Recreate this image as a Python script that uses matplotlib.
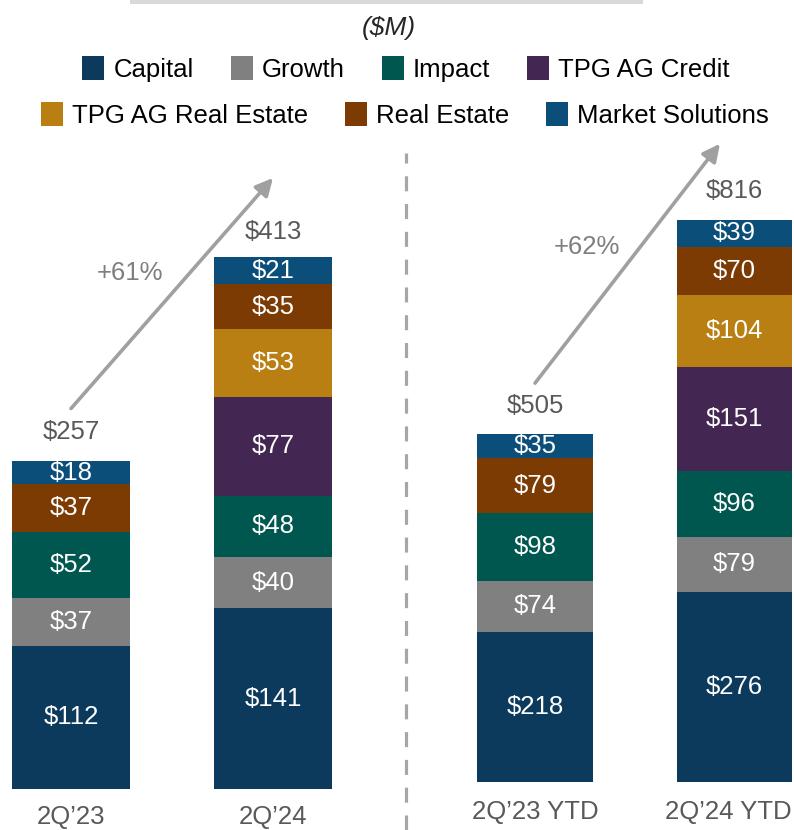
import matplotlib
matplotlib.use("Agg")
import matplotlib.pyplot as plt
from matplotlib.patches import Patch, Rectangle
from matplotlib.lines import Line2D
import numpy as np

plt.rcParams['font.family'] = ['Liberation Sans', 'DejaVu Sans']

series = ["Capital", "Growth", "Impact", "TPG AG Credit",
          "TPG AG Real Estate", "Real Estate", "Market Solutions"]
colors = ["#0b3a5c", "#808080", "#00574f", "#432651",
          "#b97f12", "#7b3b03", "#0b4e79"]

q_cats = ["2Q\u201923", "2Q\u201924"]
q_vals = {
    "Capital": [112, 141],
    "Growth": [37, 40],
    "Impact": [52, 48],
    "TPG AG Credit": [0, 77],
    "TPG AG Real Estate": [0, 53],
    "Real Estate": [37, 35],
    "Market Solutions": [18, 21],
}
q_totals = [257, 413]
q_growth = "+61%"

ytd_cats = ["2Q\u201923 YTD", "2Q\u201924 YTD"]
ytd_vals = {
    "Capital": [218, 276],
    "Growth": [74, 79],
    "Impact": [98, 96],
    "TPG AG Credit": [0, 151],
    "TPG AG Real Estate": [0, 104],
    "Real Estate": [79, 70],
    "Market Solutions": [35, 39],
}
ytd_totals = [505, 816]
ytd_growth = "+62%"

W, H = 794, 830
fig = plt.figure(figsize=(W / 100, H / 100), dpi=100)

FS = 18.5
DARK = "#595959"


def panel(rect, cats, vals, totals, growth, width, xlim, ylim,
          arrow_off, arrow_end_x, pct_xy, cat_off, cat_dx):
    ax = fig.add_axes(rect)
    ax.set_xlim(*xlim)
    ax.set_ylim(*ylim)
    ax.axis("off")
    x = np.arange(len(cats))
    bottom = np.zeros(len(cats))
    for s, c in zip(series, colors):
        v = np.array(vals[s], dtype=float)
        cont = ax.bar(x, v, bottom=bottom, width=width, color=c,
                      edgecolor="none")
        labels = [f"${int(a)}" if a > 0 else "" for a in v]
        ax.bar_label(cont, labels=labels, label_type="center",
                     color="white", fontsize=FS)
        bottom += v
    for i, t in enumerate(totals):
        ax.annotate(f"${t}", xy=(i, t), xytext=(0, 20),
                    textcoords="offset points", ha="center", va="center",
                    color=DARK, fontsize=FS)
    for i, c in enumerate(cats):
        ax.annotate(c, xy=(i, 0), xytext=(cat_dx[i], cat_off),
                    textcoords="offset points", ha="center", va="center",
                    color=DARK, fontsize=FS, annotation_clip=False)
    ax.annotate("", xy=(arrow_end_x, totals[1] + arrow_off[1]),
                xytext=(0, totals[0] + arrow_off[0]),
                arrowprops=dict(arrowstyle="-|>", color="#a0a0a0", lw=2.6,
                                mutation_scale=26, shrinkA=0, shrinkB=0),
                annotation_clip=False)
    ax.text(pct_xy[0], pct_xy[1], growth, ha="center", va="center",
            color="#7f7f7f", fontsize=FS)
    return ax


# left panel: bottom at img y 789, scale 1.281 px/unit
panel([0, 41 / H, 400 / W, 649 / H], q_cats, q_vals, q_totals, q_growth,
      0.584, (-71 / 202, (400 - 71) / 202), (0, 649 / 1.281),
      (40, 64), 1.0, (0.29, 403), -20.5, (0, 0))

# right panel: bottom at img y 782, scale 0.690 px/unit
panel([410 / W, 48 / H, 384 / W, 642 / H], ytd_cats, ytd_vals, ytd_totals,
      ytd_growth, 0.581, ((410 - 535) / 199.5, (794 - 535) / 199.5),
      (0, 642 / 0.69), (73, 109), 0.927, (0.26, 775), -21.5, (0, -4.5))

# dashed divider
fig.add_artist(Line2D([406 / W, 406 / W], [0, (H - 153) / H],
                      transform=fig.transFigure, color="#a6a6a6", lw=2.3,
                      linestyle=(0, (4.7, 4.0))))

# top grey bar
fig.add_artist(Rectangle((130 / W, (H - 4) / H), (643 - 130) / W, 6 / H,
                         transform=fig.transFigure, color="#d9d9d9", lw=0))

fig.text(389 / W, (H - 28) / H, "($M)", ha="center", va="center",
         style="italic", fontsize=19, color="#262626")

handles = [Patch(facecolor=c, edgecolor="none", label=s)
           for s, c in zip(series, colors)]
common = dict(loc="center", frameon=False, fontsize=FS, handlelength=0.85,
              handleheight=1.05, handletextpad=0.35, columnspacing=1.45,
              borderpad=0, borderaxespad=0)
fig.legend(handles=handles[:4], ncol=4,
           bbox_to_anchor=(406 / W, (H - 69) / H), **common)
fig.legend(handles=handles[4:], ncol=3,
           bbox_to_anchor=(405 / W, (H - 115) / H), **common)

fig.savefig("out.png", dpi=100)
